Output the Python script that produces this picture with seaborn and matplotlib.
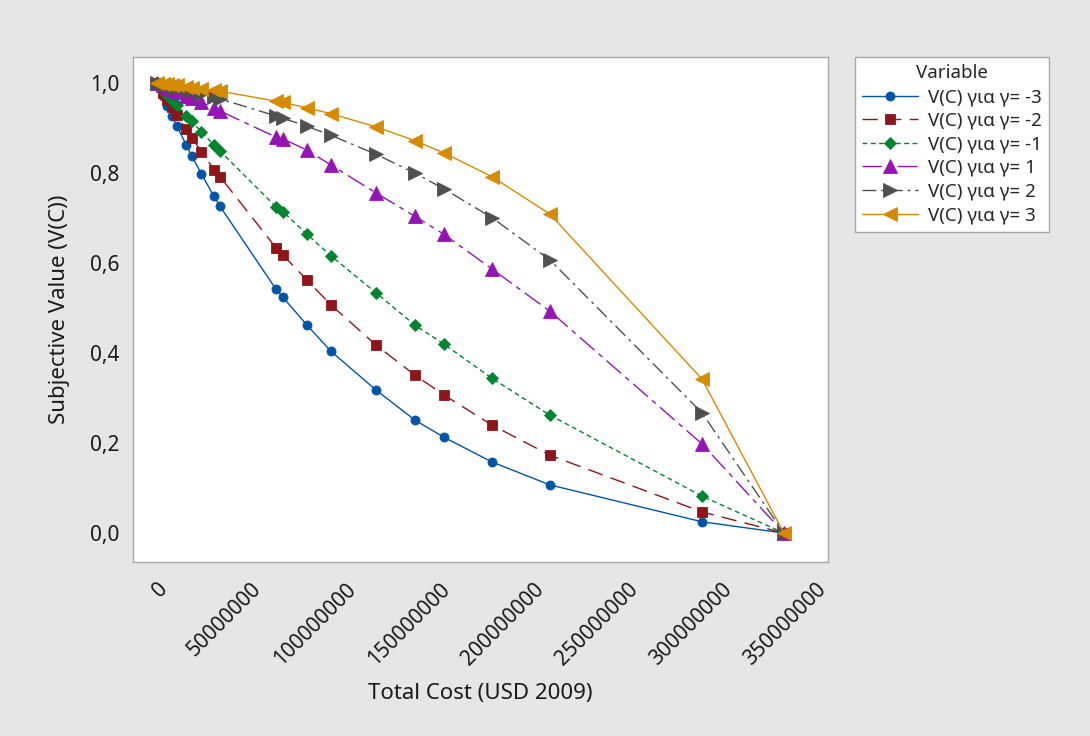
import matplotlib
matplotlib.use("Agg")
import matplotlib.pyplot as plt
import matplotlib.ticker as mticker
import seaborn as sns

# values
total_cost = [0, 3.0e6, 5.5e6, 8.0e6, 10.5e6, 15.5e6, 18.5e6, 23.5e6, 30.3e6, 33.5e6,
              63.2e6, 66.9e6, 79.7e6, 92.4e6, 116.3e6, 137.0e6, 152.4e6, 177.9e6,
              208.7e6, 289.5e6, 333.0e6]

v_gm3 = [1.0, 0.972, 0.949, 0.927, 0.905, 0.863, 0.838, 0.799, 0.748, 0.726,
         0.542, 0.524, 0.462, 0.404, 0.318, 0.251, 0.213, 0.158, 0.107, 0.025, 0.0]
v_gm2 = [1.0, 0.979, 0.962, 0.946, 0.929, 0.897, 0.879, 0.848, 0.808, 0.792,
         0.634, 0.618, 0.562, 0.507, 0.418, 0.351, 0.307, 0.240, 0.173, 0.047, 0.0]
v_gm1 = [1.0, 0.986, 0.974, 0.962, 0.951, 0.928, 0.915, 0.892, 0.862, 0.849,
         0.725, 0.714, 0.664, 0.616, 0.534, 0.462, 0.420, 0.344, 0.262, 0.082, 0.0]
v_g1 = [1.0, 0.995, 0.990, 0.986, 0.981, 0.972, 0.967, 0.957, 0.945, 0.938,
        0.880, 0.876, 0.851, 0.818, 0.756, 0.704, 0.664, 0.587, 0.493, 0.198, 0.0]
v_g2 = [1.0, 0.997, 0.995, 0.992, 0.990, 0.985, 0.982, 0.976, 0.969, 0.965,
        0.927, 0.922, 0.904, 0.884, 0.842, 0.800, 0.765, 0.701, 0.607, 0.267, 0.0]
v_g3 = [1.0, 0.998, 0.997, 0.996, 0.995, 0.992, 0.990, 0.988, 0.984, 0.982,
        0.960, 0.957, 0.945, 0.932, 0.903, 0.872, 0.845, 0.792, 0.709, 0.342, 0.0]

labels = ["V(C) για γ= -3", "V(C) για γ= -2", "V(C) για γ= -1",
          "V(C) για γ= 1", "V(C) για γ= 2", "V(C) για γ= 3"]
x_ticks = [0, 50000000, 100000000, 150000000, 200000000, 250000000, 300000000, 350000000]
y_ticks = [0.0, 0.2, 0.4, 0.6, 0.8, 1.0]

series = [v_gm3, v_gm2, v_gm1, v_g1, v_g2, v_g3]
colors = ["#0054A6", "#8E1518", "#00842F", "#9414B4", "#505050", "#D58A00"]
markers = ["o", "s", "D", "^", ">", "<"]
msizes = [6.5, 7, 6.5, 10, 10, 10.5]
styles = ["-", (0, (11, 6)), (0, (3.5, 2.5)), (0, (14, 4, 3.5, 4)),
          (0, (10, 3.5, 2, 3.5)), "-"]

sns.set_style("white")
plt.rcParams["font.family"] = ["Noto Sans", "DejaVu Sans"]

bg = "#E6E6E6"
fig = plt.figure(figsize=(10.9, 7.36), dpi=100, facecolor=bg)
ax = fig.add_axes([0.122, 0.2364, 0.6376, 0.686])
ax.set_facecolor("white")

for vals, lab, c, m, ms, ls in zip(series, labels, colors, markers, msizes, styles):
    sns.lineplot(x=total_cost, y=vals, ax=ax, color=c, marker=m, markersize=ms,
                 linestyle=ls, linewidth=1, markeredgecolor=c, markeredgewidth=0.6,
                 label=lab, sort=False, errorbar=None)

ax.set_xlim(-12.75e6, 356.4e6)
ax.set_ylim(-0.0644, 1.0578)
ax.set_xticks(x_ticks)
ax.set_xticklabels([str(t) for t in x_ticks], rotation=45, ha="right",
                   rotation_mode="anchor", fontsize=15, color="#1a1a1a")
ax.set_yticks(y_ticks)
ax.yaxis.set_major_formatter(mticker.FuncFormatter(lambda v, p: f"{v:.1f}".replace(".", ",")))
ax.tick_params(axis="y", labelsize=15, labelcolor="#1a1a1a", pad=4)
ax.tick_params(axis="x", pad=6)
ax.tick_params(axis="both", direction="out", length=6, width=1, color="#A8A8A8")

for sp in ax.spines.values():
    sp.set_color("#A8A8A8")
    sp.set_linewidth(1)

ax.set_xlabel("Total Cost (USD 2009)", fontsize=16, labelpad=10, color="#1a1a1a")
ax.set_ylabel("Subjective Value (V(C))", fontsize=16, labelpad=14, color="#1a1a1a")

leg = ax.legend(loc="upper left", bbox_to_anchor=(0.784, 0.9226),
                bbox_transform=fig.transFigure, borderaxespad=0,
                title="Variable", fontsize=13.5, title_fontsize=13.5,
                frameon=True, fancybox=False, framealpha=1,
                edgecolor="#A8A8A8", handlelength=3.0, borderpad=0.4,
                labelspacing=0.3, handletextpad=0.5)
leg.get_frame().set_linewidth(1)

fig.savefig("out.png", dpi=100, facecolor=bg)
